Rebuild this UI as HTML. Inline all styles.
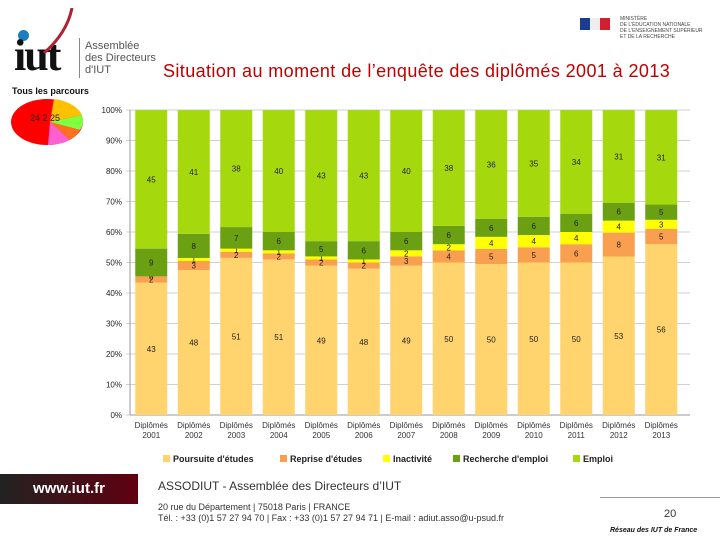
<!DOCTYPE html>
<html><head><meta charset="utf-8"><style>
body{margin:0;width:720px;height:540px;background:#fff;position:relative;overflow:hidden;font-family:"Liberation Sans",sans-serif}
.abs{position:absolute}
</style></head><body>
<div class="abs" style="left:12px;top:8px;width:150px;height:75px">
<div class="abs" style="left:6px;top:22px;width:11px;height:11px;border-radius:50%;background:#1a7fc0"></div>
<div class="abs" style="left:2px;top:22px;font:bold 44px 'Liberation Serif',serif;color:#111;letter-spacing:-2px">iut</div>
<div class="abs" style="left:67px;top:30px;width:1px;height:40px;background:#888"></div>
<div class="abs" style="left:73px;top:32px;font:11px 'Liberation Sans';color:#555;line-height:12px;white-space:nowrap">Assemblée<br>des Directeurs<br>d'IUT</div>
<svg class="abs" style="left:30px;top:0" width="50" height="50"><path d="M2 45 Q25 25 30 0" stroke="#b02030" stroke-width="3" fill="none"/></svg>
</div>
<div class="abs" style="left:12px;top:86px;font:bold 9px 'Liberation Sans';color:#111">Tous les parcours</div>
<svg class="abs" style="left:10px;top:97px" width="75" height="52">
<ellipse cx="37" cy="25" rx="36" ry="23" fill="#f00"/>
<path d="M40 25 L44 2 A36 23 0 0 1 72 18 Z" fill="#ffc000"/>
<path d="M40 25 L72 18 A36 23 0 0 1 70 33 Z" fill="#80ff40"/>
<path d="M40 25 L70 33 A36 23 0 0 1 60 43 Z" fill="#ff7020"/>
<path d="M40 25 L60 43 A36 23 0 0 1 38 48 Z" fill="#ff60d0"/>
<text x="20" y="24" font-size="9" font-family="Liberation Sans" fill="#222">24 2 25</text>
</svg>
<div class="abs" style="left:580px;top:16px;width:130px;height:28px">
<div class="abs" style="left:0;top:2px;width:10px;height:12px;background:#1a3d8f"></div><div class="abs" style="left:10px;top:2px;width:10px;height:12px;background:#eee"></div><div class="abs" style="left:20px;top:2px;width:10px;height:12px;background:#d02030"></div>
<div class="abs" style="left:40px;top:0;font:5px 'Liberation Sans';color:#444;line-height:6px">MINISTÈRE<br>DE L'ÉDUCATION NATIONALE<br>DE L'ENSEIGNEMENT SUPÉRIEUR<br>ET DE LA RECHERCHE</div>
</div>
<div class="abs" style="left:163px;top:61px;font:18px 'Liberation Sans';color:#c00000;letter-spacing:0.4px;white-space:nowrap">Situation au moment de l’enquête des diplômés 2001 à 2013</div>
<svg class="abs" style="left:0;top:0" width="720" height="540" id="chart"></svg>
<div class="abs" style="left:0;top:474px;width:138px;height:30px;background:linear-gradient(90deg,#222,#600010);color:#fff;font:bold 15px 'Liberation Sans';text-align:center;line-height:30px">www.iut.fr</div>
<div class="abs" style="left:158px;top:479px;font:12px 'Liberation Sans';color:#333">ASSODIUT - Assemblée des Directeurs d’IUT</div>
<div class="abs" style="left:158px;top:502px;font:9px 'Liberation Sans';color:#333;line-height:11px">20 rue du Département | 75018 Paris | FRANCE<br>Tél. : +33 (0)1 57 27 94 70 | Fax : +33 (0)1 57 27 94 71 | E-mail : adiut.asso@u-psud.fr</div>
<div class="abs" style="left:600px;top:497px;width:120px;height:1px;background:#999"></div>
<div class="abs" style="left:664px;top:508px;font:11px 'Liberation Sans';color:#333">20</div>
<div class="abs" style="left:610px;top:527px;font:italic bold 7px 'Liberation Sans';color:#111">Réseau des IUT de France</div>
<script>
const categories=["2001","2002","2003","2004","2005","2006","2007","2008","2009","2010","2011","2012","2013"];
const poursuite=[43,48,51,51,49,48,49,50,50,50,50,53,56];
const reprise=[2,3,2,2,2,2,3,4,5,5,6,8,5];
const inactivite=[0,1,1,1,1,1,2,2,4,4,4,4,3];
const recherche=[9,8,7,6,5,6,6,6,6,6,6,6,5];
const emploi=[45,41,38,40,43,43,40,38,36,35,34,31,31];
const seriesNames=["Poursuite d'études","Reprise d'études","Inactivité","Recherche d'emploi","Emploi"];
const yTicks=[0,10,20,30,40,50,60,70,80,90,100];
const colors=["#ffd46e","#f9a050","#ffff00","#6aa012","#a6d80e"];
const svg=document.getElementById('chart');const NS="http://www.w3.org/2000/svg";
const x0=130,slot=42.5,bw=32,yb=415,yt=110;
const y=v=>yb-(yb-yt)*v/100;
function el(t,a){const e=document.createElementNS(NS,t);for(const k in a)e.setAttribute(k,a[k]);svg.appendChild(e);return e;}
yTicks.forEach(t=>{const l=el('line',{x1:x0-4,x2:690,y1:y(t),y2:y(t),stroke:'#d0d0d0'});


const tx=el('text',{x:x0-8,y:y(t)+3,'text-anchor':'end','font-size':8,'font-family':'Liberation Sans',fill:'#222'});tx.textContent=t+'%';

});
el('line',{x1:x0,x2:x0,y1:yt,y2:yb,stroke:'#999'});
el('line',{x1:x0,x2:690,y1:yb,y2:yb,stroke:'#999'});
const series=[poursuite,reprise,inactivite,recherche,emploi];
categories.forEach((c,i)=>{const tot=series.reduce((s,a)=>s+a[i],0);let acc=0;const cx=x0+slot*i+slot/2;
series.forEach((a,j)=>{const v=a[i]/tot*100;const r=el('rect',{x:cx-bw/2,y:y(acc+v),width:bw,height:y(acc)-y(acc+v),fill:colors[j]});


const lt=el('text',{x:cx,y:(y(acc)+y(acc+v))/2+3,'text-anchor':'middle','font-size':8,'font-family':'Liberation Sans',fill:'#222'});lt.textContent=a[i];


acc+=v;});
const t1=el('text',{x:cx,y:428,'text-anchor':'middle','font-size':8,'font-family':'Liberation Sans',fill:'#333'});t1.textContent='Diplômés';


const t2=el('text',{x:cx,y:438,'text-anchor':'middle','font-size':8,'font-family':'Liberation Sans',fill:'#333'});t2.textContent=c;

});
const lx=[163,280,383,453,573];
seriesNames.forEach((n,j)=>{const r=el('rect',{x:lx[j],y:455,width:7,height:7,fill:colors[j]});


const t=el('text',{x:lx[j]+10,y:462,'font-size':9,'font-weight':'bold','font-family':'Liberation Sans',fill:'#222'});t.textContent=n;

});
</script>
</body></html>
